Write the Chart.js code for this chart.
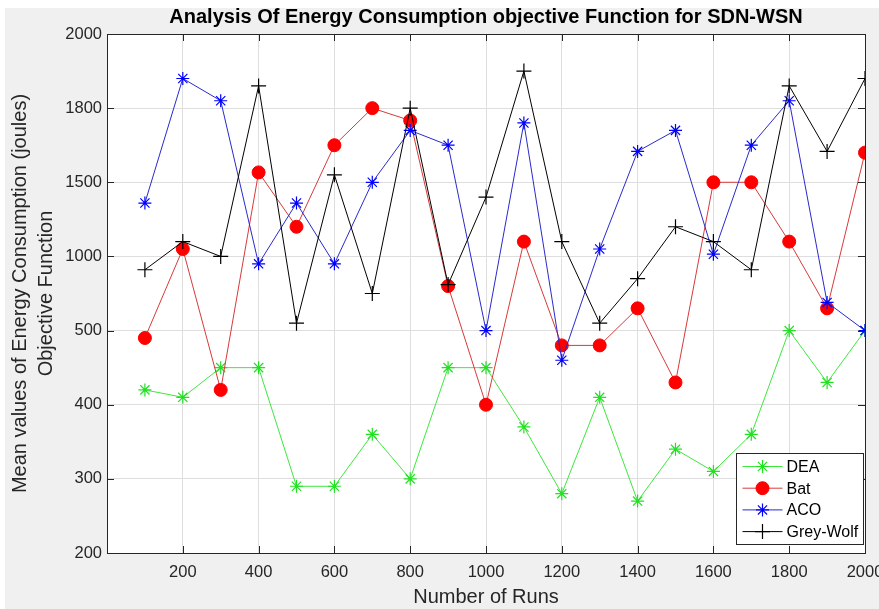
<!DOCTYPE html>
<html>
<head>
<meta charset="utf-8">
<script src="https://cdn.jsdelivr.net/npm/chart.js@4.4.1/dist/chart.umd.min.js"></script>
<style>
  html, body { margin: 0; padding: 0; background: #ffffff; }
  #wrap { position: absolute; left: 0; top: 0; width: 879px; height: 609px; }
</style>
</head>
<body>
<div id="wrap"><canvas id="c" width="879" height="609"></canvas></div>
<script>
// ---- data ----
const runs = [100,200,300,400,500,600,700,800,900,1000,1100,1200,1300,1400,1500,1600,1700,1800,1900,2000];
const xTicks = [200,400,600,800,1000,1200,1400,1600,1800,2000];
const yTickLabels = [200,300,400,500,1000,1500,1800,2000];
const dea  = [420,410,450,450,290,290,360,300,450,450,370,280,410,270,340,310,360,500,430,500];
const bat  = [490,1050,420,1540,1200,1650,1800,1750,800,400,1100,480,480,650,430,1500,1500,1100,650,1620];
const aco  = [1360,1880,1820,950,1360,950,1500,1710,1650,500,1740,460,1050,1625,1710,1015,1650,1820,690,500];
const gwo  = [910,1100,1000,1860,550,1530,750,1800,810,1400,1900,1100,550,850,1200,1100,910,1860,1625,1880];

// Axis is evenly spaced in tick-label index; map value -> position between labels
function toAxis(v) {
  for (let i = 0; i < yTickLabels.length - 1; i++) {
    const a = yTickLabels[i], b = yTickLabels[i + 1];
    if (v <= b) return i + (v - a) / (b - a);
  }
  return yTickLabels.length - 1;
}
const pts = arr => arr.map((v, i) => ({ x: runs[i], y: toAxis(v) }));

const FONT = "'Liberation Sans', Arial, Helvetica, sans-serif";
const AX = '#262626';

const bgPlugin = {
  id: 'bg',
  beforeDraw(chart) {
    const { ctx, chartArea: a } = chart;
    ctx.save();
    ctx.fillStyle = '#ffffff';
    ctx.fillRect(0, 0, chart.width, chart.height);
    ctx.fillStyle = '#f0f0f0';
    ctx.fillRect(5, 8, chart.width - 5, chart.height - 8);
    ctx.fillStyle = '#ffffff';
    ctx.fillRect(a.left, a.top, a.right - a.left, a.bottom - a.top);
    ctx.restore();
  }
};

const boxPlugin = {
  id: 'box',
  afterDatasetsDraw(chart) {
    const { ctx, chartArea: a, scales } = chart;
    ctx.save();
    ctx.strokeStyle = AX;
    ctx.lineWidth = 1;
    const L = 7;
    ctx.beginPath();
    scales.x.ticks.forEach(t => {
      const px = Math.round(scales.x.getPixelForValue(t.value)) + 0.5;
      ctx.moveTo(px, a.bottom); ctx.lineTo(px, a.bottom - L);
      ctx.moveTo(px, a.top); ctx.lineTo(px, a.top + L);
    });
    scales.y.ticks.forEach(t => {
      const py = Math.round(scales.y.getPixelForValue(t.value)) + 0.5;
      ctx.moveTo(a.left, py); ctx.lineTo(a.left + L, py);
      ctx.moveTo(a.right, py); ctx.lineTo(a.right - L, py);
    });
    ctx.stroke();
    ctx.strokeRect(Math.round(a.left) + 0.5, Math.round(a.top) + 0.5,
                   Math.round(a.right - a.left), Math.round(a.bottom - a.top));

    // legend (inside, south-east)
    const order = [0, 1, 2, 3];
    const w = 127, h = 91;
    const lx = Math.round(a.right - 2 - w) + 0.5, ly = Math.round(a.bottom - 9 - h) + 0.5;
    ctx.fillStyle = '#ffffff';
    ctx.fillRect(lx, ly, w, h);
    ctx.strokeStyle = AX;
    ctx.strokeRect(lx, ly, w, h);
    ctx.font = '16px ' + FONT;
    ctx.textBaseline = 'middle';
    ctx.textAlign = 'left';
    order.forEach((di, k) => {
      const ds = chart.data.datasets[di];
      const y = ly + 13 + k * 21.7;
      ctx.strokeStyle = ds.borderColor;
      ctx.lineWidth = 1;
      ctx.beginPath();
      ctx.moveTo(lx + 6, y); ctx.lineTo(lx + 46, y);
      ctx.stroke();
      ctx.fillStyle = ds.pointBackgroundColor;
      ctx.strokeStyle = ds.pointBorderColor;
      ctx.lineWidth = ds.pointBorderWidth;
      Chart.helpers.drawPoint(ctx, { pointStyle: ds.pointStyle, radius: ds.pointRadius, rotation: 0, borderWidth: ds.pointBorderWidth }, lx + 26, y);
      ctx.fillStyle = '#000000';
      ctx.fillText(ds.label, lx + 50, y + 1);
    });
    ctx.restore();
  }
};

new Chart(document.getElementById('c'), {
  type: 'line',
  data: {
    datasets: [
      { label: 'DEA', data: pts(dea), order: 4, borderColor: '#3ee83e', borderWidth: 1,
        pointStyle: 'star', pointRadius: 6.5, pointBorderColor: '#22e022', pointBackgroundColor: '#22e022', pointBorderWidth: 1.2 },
      { label: 'Bat', data: pts(bat), order: 3, borderColor: '#d83a3a', borderWidth: 1,
        pointStyle: 'circle', pointRadius: 6.5, pointBorderColor: '#ff0000', pointBackgroundColor: '#ff0000', pointBorderWidth: 1 },
      { label: 'ACO', data: pts(aco), order: 2, borderColor: '#2a2acc', borderWidth: 1,
        pointStyle: 'star', pointRadius: 6.5, pointBorderColor: '#0000ff', pointBackgroundColor: '#0000ff', pointBorderWidth: 1.2 },
      { label: 'Grey-Wolf', data: pts(gwo), order: 1, borderColor: '#000000', borderWidth: 1,
        pointStyle: 'cross', pointRadius: 7.5, pointBorderColor: '#000000', pointBackgroundColor: '#000000', pointBorderWidth: 1.2 }
    ]
  },
  options: {
    responsive: false,
    animation: false,
    devicePixelRatio: 1,
    layout: { padding: { left: 0, right: 14, top: 0, bottom: 0 } },
    elements: { line: { tension: 0, fill: false } },
    plugins: {
      legend: { display: false },
      tooltip: { enabled: false },
      title: {
        display: true,
        fullSize: false,
        text: 'Analysis Of Energy Consumption objective Function for SDN-WSN',
        color: '#000000',
        font: { family: FONT, size: 20, weight: 'bold', lineHeight: 1.2 },
        padding: { top: 5, bottom: 5 }
      }
    },
    scales: {
      x: {
        type: 'linear', min: 0, max: 2000,
        afterBuildTicks(s) { s.ticks = xTicks.map(v => ({ value: v })); },
        afterFit(s) { s.height = 56; s.paddingLeft = 0; s.paddingRight = 0; },
        grid: { color: '#dedede', lineWidth: 1, drawTicks: false },
        border: { display: false },
        ticks: { color: AX, font: { family: FONT, size: 16.5 }, padding: 10, maxRotation: 0, autoSkip: false,
                 callback: (v) => String(v) },
        title: { display: true, text: 'Number of Runs', color: AX, font: { family: FONT, size: 20, lineHeight: 1.2 }, padding: { top: 0, bottom: 0 } }
      },
      y: {
        type: 'linear', min: 0, max: yTickLabels.length - 1,
        afterBuildTicks(s) { s.ticks = yTickLabels.map((v, i) => ({ value: i })); },
        afterFit(s) { s.width = 107; s.paddingTop = 0; s.paddingBottom = 0; },
        grid: { color: '#dedede', lineWidth: 1, drawTicks: false },
        border: { display: false },
        ticks: { color: AX, font: { family: FONT, size: 16.5 }, padding: 5, autoSkip: false,
                 callback: (v) => String(yTickLabels[v]) },
        title: { display: true, text: ['Mean values of Energy Consumption (joules)', 'Objective Function'],
                 color: AX, font: { family: FONT, size: 20, lineHeight: 1.3 }, padding: { top: 7, bottom: 0 } }
      }
    }
  },
  plugins: [bgPlugin, boxPlugin]
});
</script>
</body>
</html>
